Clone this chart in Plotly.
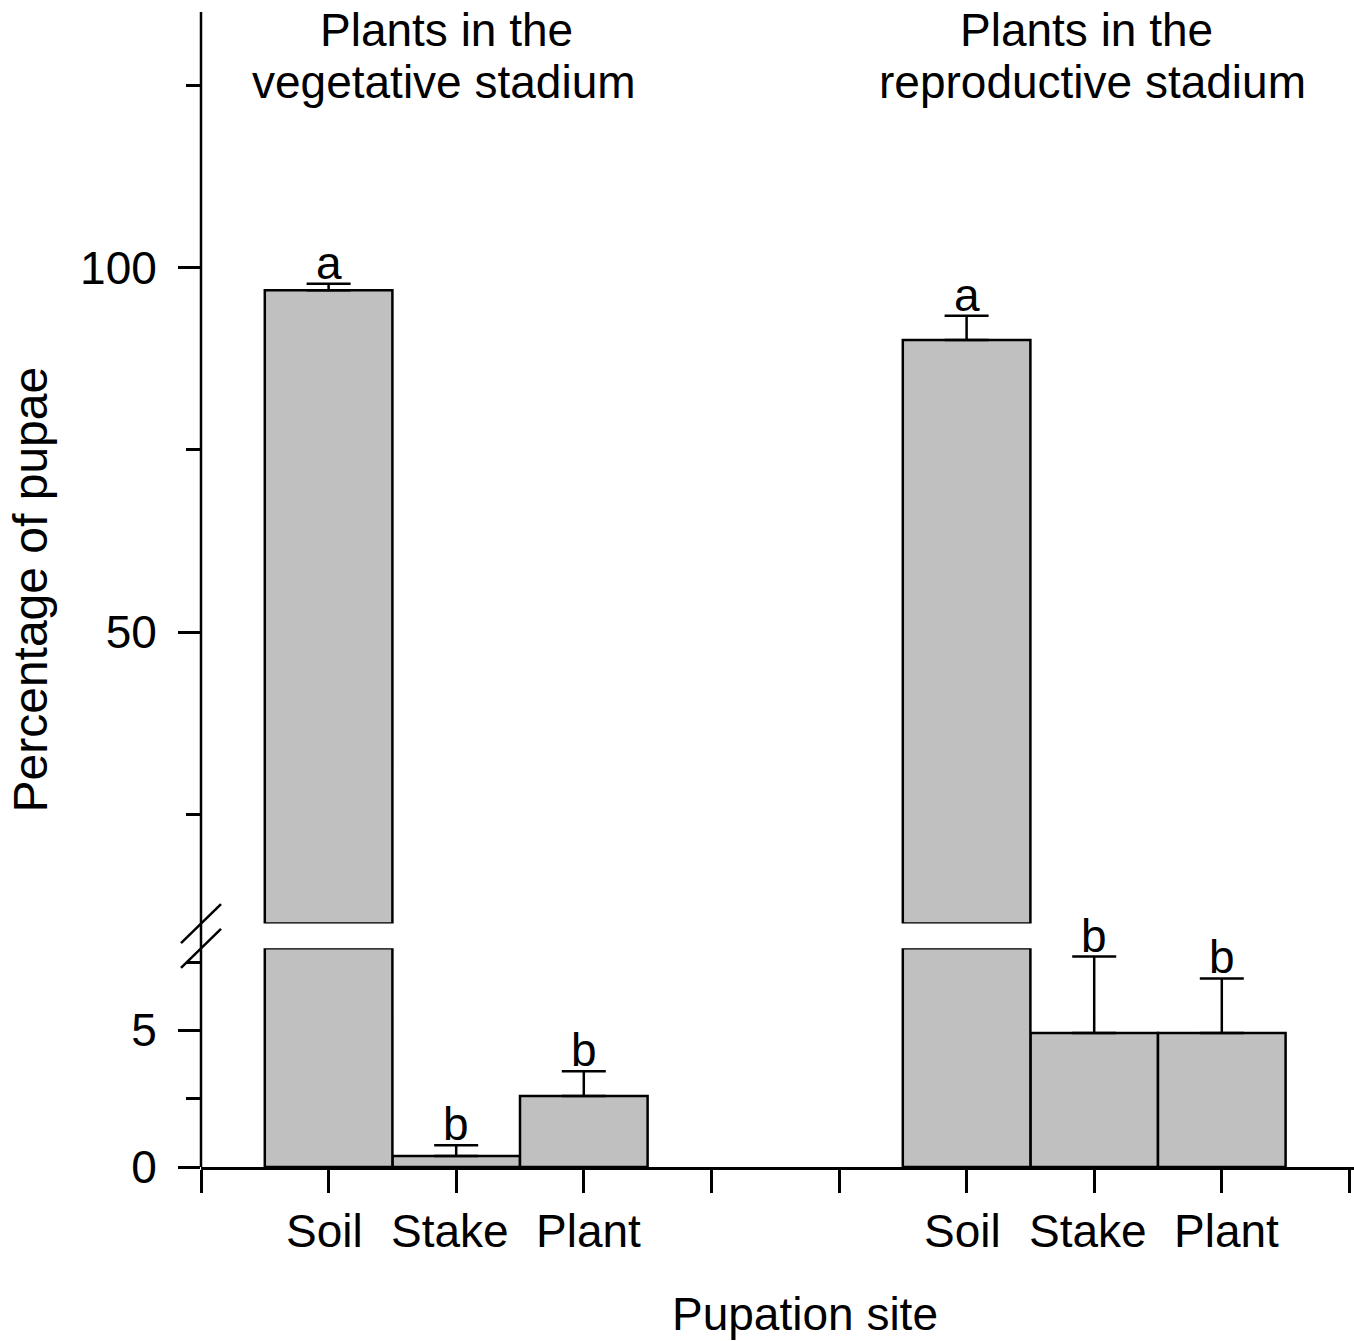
import plotly.graph_objects as go

# ---- data ----
stadia = ["Plants in the vegetative stadium", "Plants in the reproductive stadium"]
sites = ["Soil", "Stake", "Plant"]
x_pos = [1, 2, 3, 6, 7, 8]            # bar positions on the x scale
mean_pct = [96.9, 0.4, 2.6, 90.1, 4.9, 4.9]
err_pct = [0.9, 0.4, 0.9, 3.3, 2.8, 2.0]
letters = ["a", "b", "b", "a", "b", "b"]
title_lines_left = ["Plants in the", "vegetative stadium"]
title_lines_right = ["Plants in the", "reproductive stadium"]

# broken axis limits
LOWER_MAX = 8
UPPER_MIN = 10
UPPER_MAX = 135.1

FONT = "Liberation Sans, Arial, sans-serif"
FS = 46
GREY = "#c0c0c0"
LW = 2.5

fig = go.Figure()

# lower segment: bars that fit entirely
lx = [x for x, v in zip(x_pos, mean_pct) if v < LOWER_MAX]
ly = [v for v in mean_pct if v < LOWER_MAX]
le = [e for v, e in zip(mean_pct, err_pct) if v < LOWER_MAX]
fig.add_trace(go.Bar(
    x=lx, y=ly, width=1, yaxis="y", xaxis="x",
    marker=dict(color=GREY, line=dict(color="black", width=LW)),
    error_y=dict(type="data", symmetric=False, array=le, arrayminus=[0] * len(le),
                 color="black", thickness=LW, width=22),
    showlegend=False, hoverinfo="skip"))

# lower segment: truncated tall bars
tx = [x for x, v in zip(x_pos, mean_pct) if v >= LOWER_MAX]
fig.add_trace(go.Bar(
    x=tx, y=[LOWER_MAX] * len(tx), width=1, yaxis="y", xaxis="x",
    marker=dict(color=GREY, line=dict(color="black", width=LW)),
    showlegend=False, hoverinfo="skip"))

# upper segment: tall bars above the break
ux = [x for x, v in zip(x_pos, mean_pct) if v > UPPER_MIN]
uy = [v - UPPER_MIN for v in mean_pct if v > UPPER_MIN]
ue = [e for v, e in zip(mean_pct, err_pct) if v > UPPER_MIN]
fig.add_trace(go.Bar(
    x=ux, y=uy, base=[UPPER_MIN] * len(ux), width=1, yaxis="y2", xaxis="x",
    marker=dict(color=GREY, line=dict(color="black", width=LW)),
    error_y=dict(type="data", symmetric=False, array=ue, arrayminus=[0] * len(ue),
                 color="black", thickness=LW, width=22),
    showlegend=False, hoverinfo="skip"))

annotations = []
# significance letters
for x, v, e, t in zip(x_pos, mean_pct, err_pct, letters):
    yref = "y2" if v > UPPER_MIN else "y"
    annotations.append(dict(x=x, y=v + e, xref="x", yref=yref, text=t, showarrow=False,
                            yanchor="bottom", xanchor="center", yshift=-7,
                            font=dict(family=FONT, size=FS, color="black")))

# category labels under the x axis
label_shift = [-4, -6, 5]
for i, x in enumerate(x_pos):
    annotations.append(dict(x=x, y=0, xref="x", yref="paper", text=sites[i % 3],
                            showarrow=False, xanchor="center", yanchor="middle",
                            xshift=label_shift[i % 3], yshift=-64,
                            font=dict(family=FONT, size=FS, color="black")))

# panel titles (two lines each)
for lines, xp in ((title_lines_left, [446.5, 444]), (title_lines_right, [1086.5, 1092.5])):
    for i, (ln, px) in enumerate(zip(lines, xp)):
        annotations.append(dict(x=(px - 201) / 1153, xref="paper", y=1, yref="paper",
                                yanchor="middle", xanchor="center",
                                yshift=(12 - 30) - 52 * i,
                                text=ln, showarrow=False,
                                font=dict(family=FONT, size=FS, color="black")))

# axis titles
annotations.append(dict(x=0, xref="paper", xshift=-171, y=0.5, yref="paper",
                        text="Percentage of pupae", textangle=-90, showarrow=False,
                        xanchor="center", yanchor="middle",
                        font=dict(family=FONT, size=48, color="black")))
annotations.append(dict(x=(805 - 201) / 1153, xref="paper", y=0, yref="paper",
                        yshift=-147, text="Pupation site", showarrow=False,
                        xanchor="center", yanchor="middle",
                        font=dict(family=FONT, size=FS, color="black")))

H_PLOT = 1341 - 12 - 174
LOWER_DOM_TOP = LOWER_MAX * 27.33 / H_PLOT
UPPER_DOM_BOT = (1166.7 - 923.3) / H_PLOT

shapes = [
    # continuous y-axis line
    dict(type="line", xref="paper", yref="paper", x0=0, x1=0, y0=0, y1=1,
         line=dict(color="black", width=LW)),
    # break marks
    dict(type="line", xref="paper", xsizemode="pixel", xanchor=0, x0=-20, x1=20,
         yref="paper", ysizemode="pixel", yanchor=UPPER_DOM_BOT, y0=-19.5, y1=19.5,
         line=dict(color="black", width=LW)),
    dict(type="line", xref="paper", xsizemode="pixel", xanchor=0, x0=-20, x1=20,
         yref="paper", ysizemode="pixel", yanchor=LOWER_DOM_TOP, y0=-19.5, y1=19.5,
         line=dict(color="black", width=LW)),
]

fig.update_layout(
    width=1354, height=1341,
    margin=dict(l=201, r=0, t=12, b=174),
    paper_bgcolor="white", plot_bgcolor="white",
    barmode="overlay",
    font=dict(family=FONT, size=FS, color="black"),
    xaxis=dict(range=[0, 1153 / 127.6], showgrid=False, zeroline=False,
               showline=True, linecolor="black", linewidth=LW,
               ticks="outside", ticklen=23, tickwidth=LW, tickcolor="black",
               tickmode="array", tickvals=list(range(10)),
               showticklabels=False,
               anchor="y"),
    yaxis=dict(domain=[0, LOWER_DOM_TOP], range=[0, LOWER_MAX],
               showgrid=False, zeroline=False, showline=False,
               ticks="outside", ticklen=22, tickwidth=LW, tickcolor="black",
               tickmode="array", tickvals=[0, 5], ticktext=["0", "5"],
               ticklabelstandoff=12,
               minor=dict(tickmode="array", tickvals=[2.5, 7.5], ticks="outside",
                          ticklen=14, tickwidth=LW, tickcolor="black"),
               tickfont=dict(family=FONT, size=FS, color="black")),
    yaxis2=dict(domain=[UPPER_DOM_BOT, 1], range=[UPPER_MIN, UPPER_MAX],
                showgrid=False, zeroline=False, showline=False, anchor="x",
                ticks="outside", ticklen=22, tickwidth=LW, tickcolor="black",
                tickmode="array", tickvals=[50, 100], ticktext=["50", "100"],
                ticklabelstandoff=12,
                minor=dict(tickmode="array", tickvals=[25, 75, 125], ticks="outside",
                           ticklen=14, tickwidth=LW, tickcolor="black"),
                tickfont=dict(family=FONT, size=FS, color="black")),
    annotations=annotations,
    shapes=shapes,
)

fig.write_html("out.html")
